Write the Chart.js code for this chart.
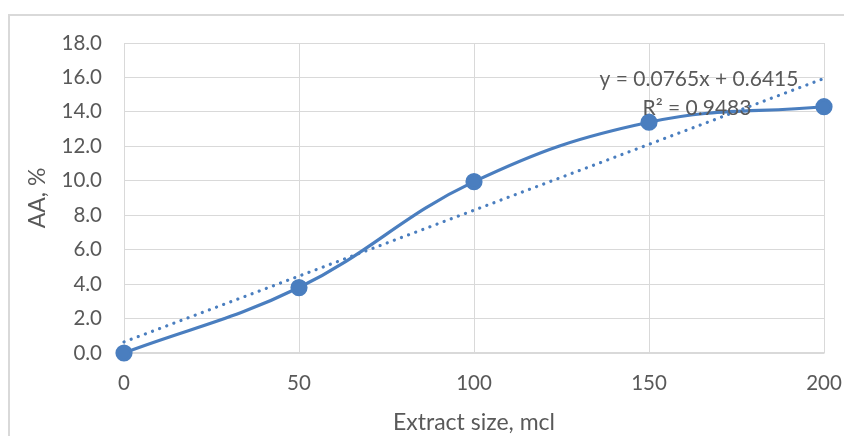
<!DOCTYPE html>
<html><head><meta charset="utf-8">
<script src="https://cdn.jsdelivr.net/npm/chart.js@4"></script>
<style>html,body{margin:0;padding:0;background:#fff;}#wrap{width:844px;height:436px;position:relative;}</style>
</head><body><div id="wrap"><canvas id="c" width="844" height="436"></canvas></div>
<script>
const xValues = [0, 50, 100, 150, 200];
const yValues = [0, 3.8, 9.95, 13.4, 14.3];
const trendSlope = 0.0765;
const trendIntercept = 0.6415;
const trendR2 = 0.9483;
const trendRange = [0, 200];
const yTicks = [0, 2, 4, 6, 8, 10, 12, 14, 16, 18];
const xTicks = [0, 50, 100, 150, 200];

const blue = '#4a7ebf';
const textColor = '#595959';
const gridColor = '#d9d9d9';
const FONT = 'Lato, "Open Sans", sans-serif';

const frame = {
  id: 'frame',
  beforeDraw(chart) {
    const ctx = chart.ctx;
    ctx.save();
    ctx.strokeStyle = '#d9d9d9';
    ctx.lineWidth = 2;
    ctx.beginPath();
    ctx.moveTo(9, 436);
    ctx.lineTo(9, 15);
    ctx.lineTo(844, 15);
    ctx.stroke();
    ctx.restore();
  }
};
const eqLabel = {
  id: 'eqLabel',
  afterDatasetsDraw(chart) {
    const ctx = chart.ctx, a = chart.chartArea;
    ctx.save();
    ctx.fillStyle = textColor;
    ctx.font = '21px ' + FONT;
    ctx.textAlign = 'center';
    ctx.textBaseline = 'middle';
    const sign = trendIntercept >= 0 ? '+' : '-';
    ctx.fillText('y = ' + trendSlope + 'x ' + sign + ' ' + Math.abs(trendIntercept), a.right - 125, a.top + 36);
    ctx.fillText('R\u00B2 = ' + trendR2, a.right - 127, a.top + 65);
    ctx.restore();
  }
};

new Chart(document.getElementById('c'), {
  type: 'scatter',
  data: {
    datasets: [
      {
        label: 'AA',
        data: xValues.map((x, i) => ({x, y: yValues[i]})),
        showLine: true,
        borderColor: blue,
        backgroundColor: blue,
        borderWidth: 3.2,
        pointRadius: 7,
        pointHoverRadius: 7,
        tension: 0.4,
        clip: false,
        order: 1
      },
      {
        label: 'Trend',
        data: trendRange.map(x => ({x, y: trendSlope * x + trendIntercept})),
        showLine: true,
        borderColor: blue,
        borderWidth: 3.2,
        borderDash: [0.1, 7.5],
        borderCapStyle: 'round',
        pointRadius: 0,
        tension: 0,
        clip: false,
        order: 2
      }
    ]
  },
  options: {
    responsive: false,
    animation: false,
    events: [],
    layout: { padding: { top: 43, right: 20, left: 0, bottom: 0 } },
    plugins: { legend: { display: false }, tooltip: { enabled: false } },
    scales: {
      x: {
        type: 'linear', min: 0, max: 200,
        afterBuildTicks(s) { s.ticks = xTicks.map(v => ({value: v})); },
        afterFit(s) { s.height = 83; s.paddingLeft = 0; s.paddingRight = 0; },
        grid: { color: gridColor, lineWidth: 1, drawTicks: false },
        border: { color: gridColor, width: 1.5 },
        ticks: { color: textColor, font: { family: FONT, size: 20.5 }, padding: 18 },
        title: { display: true, text: 'Extract size, mcl', color: textColor, font: { family: FONT, size: 23 }, padding: { top: 0, bottom: 0 } }
      },
      y: {
        type: 'linear', min: 0, max: 18,
        afterBuildTicks(s) { s.ticks = yTicks.map(v => ({value: v})); },
        afterFit(s) { s.width = 124; s.paddingTop = 0; s.paddingBottom = 0; },
        grid: { color: gridColor, lineWidth: 1, drawTicks: false },
        border: { display: false },
        ticks: { color: textColor, font: { family: FONT, size: 20.5 }, padding: 22, callback: v => v.toFixed(1) },
        title: { display: true, text: 'AA, %', color: textColor, font: { family: FONT, size: 23 }, padding: { top: 24, bottom: 0 } }
      }
    }
  },
  plugins: [frame, eqLabel]
});
</script></body></html>
